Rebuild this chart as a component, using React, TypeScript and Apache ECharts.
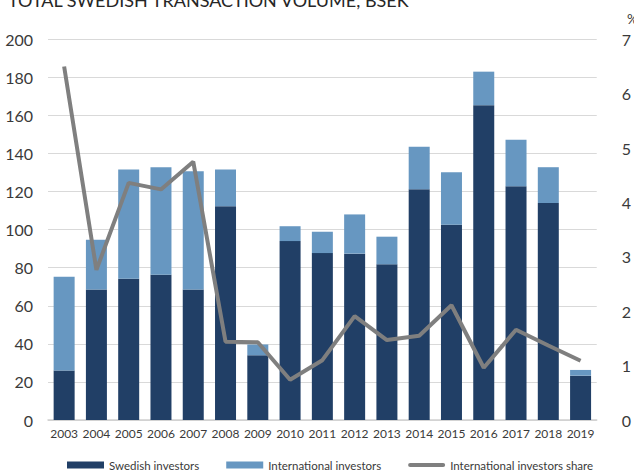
import React, { useEffect, useRef } from "react";
import * as echarts from "echarts";

const years = ["2003","2004","2005","2006","2007","2008","2009","2010","2011","2012","2013","2014","2015","2016","2017","2018","2019"];
const swedishInvestors = [26, 68.6, 74.2, 76.3, 68.6, 112.3, 34, 94, 87.7, 87.4, 81.8, 121.2, 102.6, 165.4, 122.8, 114, 23.3];
const internationalInvestors = [49.3, 26.1, 57.4, 56.5, 62.1, 19.3, 5.6, 7.8, 11.2, 20.6, 14.5, 22.3, 27.6, 17.6, 24.4, 18.8, 3.0];
const internationalShare = [6.5, 2.76, 4.36, 4.24, 4.75, 1.44, 1.43, 0.74, 1.1, 1.91, 1.47, 1.55, 2.11, 0.96, 1.66, 1.37, 1.09];
const leftTicks = { min: 0, max: 200, interval: 20 };
const rightTicks = { min: 0, max: 7, interval: 1 };

const FONT = "Lato, 'Noto Sans', sans-serif";

export default function App() {
  const ref = useRef<HTMLDivElement>(null);
  useEffect(() => {
    if (!ref.current) return;
    const chart = echarts.init(ref.current, null, { renderer: "svg" });
    chart.setOption({
      animation: false,
      backgroundColor: "#ffffff",
      title: {
        text: "TOTAL SWEDISH TRANSACTION VOLUME, BSEK",
        left: 8,
        top: -9,
        padding: 0,
        textStyle: { fontFamily: FONT, fontSize: 18, fontWeight: "normal", color: "#262626" },
      },
      graphic: [
        {
          type: "text",
          x: 627,
          y: 11,
          style: { text: "%", font: "14px Lato, sans-serif", fill: "#3a3a3a" },
        },
      ],
      grid: { left: 48, right: 23.5, top: 39.3, bottom: 54 },
      legend: {
        left: 67,
        top: 459,
        itemWidth: 37,
        itemHeight: 7,
        itemGap: 27,
        padding: 0,
        textStyle: { fontFamily: FONT, fontSize: 11.5, color: "#3a3a3a" },
        data: [
          { name: "Swedish investors", icon: "rect" },
          { name: "International investors", icon: "rect" },
          {
            name: "International investors share",
            icon: "path://M2,0 L35,0 A2,2 0 0 1 35,4 L2,4 A2,2 0 0 1 2,0 Z",
            itemStyle: { color: "#7f7f7f" },
          },
        ],
      },
      xAxis: {
        type: "category",
        data: years,
        axisTick: { show: false },
        axisLine: { lineStyle: { color: "#d0d0d0", width: 1.5 } },
        axisLabel: { interval: 0, margin: 7, fontFamily: FONT, fontSize: 12, color: "#3a3a3a" },
      },
      yAxis: [
        {
          type: "value",
          ...leftTicks,
          axisLine: { show: false },
          axisTick: { show: false },
          splitLine: { lineStyle: { color: "#d9d9d9", width: 1 } },
          axisLabel: { margin: 15, fontFamily: FONT, fontSize: 16, color: "#3a3a3a" },
        },
        {
          type: "value",
          ...rightTicks,
          axisLine: { show: false },
          axisTick: { show: false },
          splitLine: { show: false },
          axisLabel: { margin: 25, fontFamily: FONT, fontSize: 16, color: "#3a3a3a" },
        },
      ],
      series: [
        {
          name: "Swedish investors",
          type: "bar",
          stack: "vol",
          barWidth: 21,
          data: swedishInvestors,
          itemStyle: { color: "#213f66" },
        },
        {
          name: "International investors",
          type: "bar",
          stack: "vol",
          barWidth: 21,
          data: internationalInvestors,
          itemStyle: { color: "#6797c1" },
        },
        {
          name: "International investors share",
          type: "line",
          yAxisIndex: 1,
          data: internationalShare,
          symbol: "none",
          lineStyle: { color: "#7f7f7f", width: 4 },
          itemStyle: { color: "#7f7f7f" },
        },
      ],
    });
    return () => chart.dispose();
  }, []);
  return <div ref={ref} style={{ position: "absolute", left: 0, top: 0, width: 634, height: 474 }} />;
}
